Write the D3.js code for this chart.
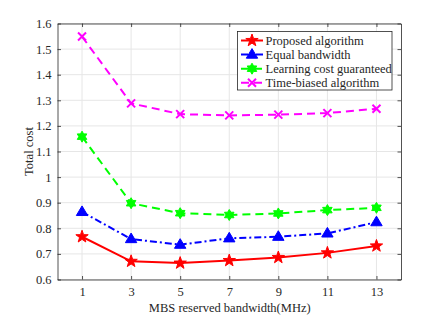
<!DOCTYPE html>
<html>
<head>
<meta charset="utf-8">
<script src="https://cdn.jsdelivr.net/npm/d3@7"></script>
<style>
  body { margin: 0; background: #fff; }
  svg text { font-family: "Liberation Serif", "Times New Roman", serif; fill: #262626; }
</style>
</head>
<body>
<svg id="chart" width="443" height="315"></svg>
<script>
/* total cost vs MBS reserved bandwidth */
const bandwidth = [1, 3, 5, 7, 9, 11, 13];
const proposed = [0.767, 0.671, 0.664, 0.674, 0.686, 0.704, 0.731];
const equalBw = [0.864, 0.758, 0.736, 0.761, 0.767, 0.780, 0.824];
const learningCost = [1.158, 0.898, 0.859, 0.852, 0.858, 0.871, 0.880];
const timeBiased = [1.549, 1.288, 1.246, 1.241, 1.244, 1.250, 1.267];
const yTicks = [0.6, 0.7, 0.8, 0.9, 1, 1.1, 1.2, 1.3, 1.4, 1.5, 1.6];
const seriesNames = ['Proposed algorithm', 'Equal bandwidth', 'Learning cost guaranteed', 'Time-biased algorithm'];

let svg = d3.select('#chart');
const pLeft = 57.5, pRight = 401, pTop = 23.5, pBottom = 279.5;

let xScale = d3.scaleLinear().domain([0, 14]).range([pLeft, pRight]);
let yScale = d3.scaleLinear().domain([0.6, 1.6]).range([pBottom, pTop]);

// grid
let grid = svg.append('g');
bandwidth.forEach(d => {
    grid.append('line').attr('x1', xScale(d)).attr('x2', xScale(d))
        .attr('y1', pTop).attr('y2', pBottom).attr('stroke', '#e6e6e6').attr('stroke-width', 1);
});
yTicks.forEach(d => {
    grid.append('line').attr('x1', pLeft).attr('x2', pRight)
        .attr('y1', yScale(d)).attr('y2', yScale(d)).attr('stroke', '#e6e6e6').attr('stroke-width', 1);
});

// axes, ticks inside on all four sides
const tickFmt = d => String(+d.toFixed(1));
let axisColor = '#262626';
let ax = [
    svg.append('g').attr('transform', `translate(0,${pBottom})`).call(d3.axisBottom(xScale).tickValues(bandwidth).tickSizeInner(-3.5).tickSizeOuter(0).tickPadding(8)),
    svg.append('g').attr('transform', `translate(0,${pTop})`).call(d3.axisTop(xScale).tickValues(bandwidth).tickSizeInner(-3.5).tickSizeOuter(0).tickFormat('')),
    svg.append('g').attr('transform', `translate(${pLeft},0)`).call(d3.axisLeft(yScale).tickValues(yTicks).tickSizeInner(-3.5).tickSizeOuter(0).tickPadding(6).tickFormat(tickFmt)),
    svg.append('g').attr('transform', `translate(${pRight},0)`).call(d3.axisRight(yScale).tickValues(yTicks).tickSizeInner(-3.5).tickSizeOuter(0).tickFormat(''))
];
ax.forEach(a => {
    a.select('.domain').attr('stroke', axisColor).attr('stroke-width', 0.8);
    a.selectAll('line').attr('stroke', axisColor).attr('stroke-width', 0.8);
    a.selectAll('text').attr('font-size', 12.5).attr('fill', axisColor)
        .style('font-family', '"Liberation Serif", serif');
});

// markers
let starPath = (r) => {
    let pts = [];
    for (let i = 0; i < 10; i++) {
        let rr = i % 2 === 0 ? r : r * 0.4;
        let a = -Math.PI / 2 + i * Math.PI / 5;
        pts.push([rr * Math.cos(a), rr * Math.sin(a)]);
    }
    return 'M' + pts.join('L') + 'Z';
};
let hexPath = (r) => {
    let pts = [];
    for (let i = 0; i < 12; i++) {
        let rr = i % 2 === 0 ? r : r * 0.58;
        let a = -Math.PI / 2 + i * Math.PI / 6;
        pts.push([rr * Math.cos(a), rr * Math.sin(a)]);
    }
    return 'M' + pts.join('L') + 'Z';
};
let triPath = (r) => `M0,${-r}L${r * 0.95},${r * 0.6}L${-r * 0.95},${r * 0.6}Z`;
let xPath = (r) => `M${-r},${-r}L${r},${r}M${-r},${r}L${r},${-r}`;

let series = [
    { name: seriesNames[0], values: proposed, color: '#ff0000', dash: null, marker: starPath(6.5), fill: true },
    { name: seriesNames[1], values: equalBw, color: '#0000ff', dash: '7,3,2,3', marker: triPath(6), fill: true },
    { name: seriesNames[2], values: learningCost, color: '#00ff00', dash: '8,5', marker: hexPath(5.5), fill: true },
    { name: seriesNames[3], values: timeBiased, color: '#ff00ff', dash: '8,5', marker: xPath(4), fill: false }
];

let lineGen = d3.line().x(d => xScale(d[0])).y(d => yScale(d[1]));

series.forEach(s => {
    let pts = bandwidth.map((b, i) => [b, s.values[i]]);
    svg.append('path').attr('d', lineGen(pts)).attr('fill', 'none')
        .attr('stroke', s.color).attr('stroke-width', 2).attr('stroke-dasharray', s.dash);
    svg.append('g').selectAll('path').data(pts).join('path')
        .attr('d', s.marker)
        .attr('transform', d => `translate(${xScale(d[0])},${yScale(d[1])})`)
        .attr('fill', s.fill ? s.color : 'none')
        .attr('stroke', s.color).attr('stroke-width', s.fill ? 1 : 2);
});

// legend
let legend = svg.append('g');
legend.append('rect').attr('x', 237.5).attr('y', 31.5).attr('width', 154.5).attr('height', 58.5)
    .attr('fill', '#fff').attr('stroke', axisColor).attr('stroke-width', 0.8);
series.forEach((s, i) => {
    let ly = 40.5 + i * 14.1;
    legend.append('line').attr('x1', 241).attr('x2', 263).attr('y1', ly).attr('y2', ly)
        .attr('stroke', s.color).attr('stroke-width', 2).attr('stroke-dasharray', s.dash);
    legend.append('path').attr('d', s.marker).attr('transform', `translate(252,${ly})`)
        .attr('fill', s.fill ? s.color : 'none').attr('stroke', s.color).attr('stroke-width', s.fill ? 1 : 2);
    legend.append('text').attr('x', 265.5).attr('y', ly + 4.3).attr('font-size', 12.5).text(s.name);
});

// axis titles
svg.append('text').attr('x', (pLeft + pRight) / 2 + 0.5).attr('y', 312).attr('text-anchor', 'middle')
    .attr('font-size', 12.5).text('MBS reserved bandwidth(MHz)');
svg.append('text').attr('transform', `translate(33,${(pTop + pBottom) / 2}) rotate(-90)`)
    .attr('text-anchor', 'middle').attr('font-size', 12.5).text('Total cost');
</script>
</body>
</html>
